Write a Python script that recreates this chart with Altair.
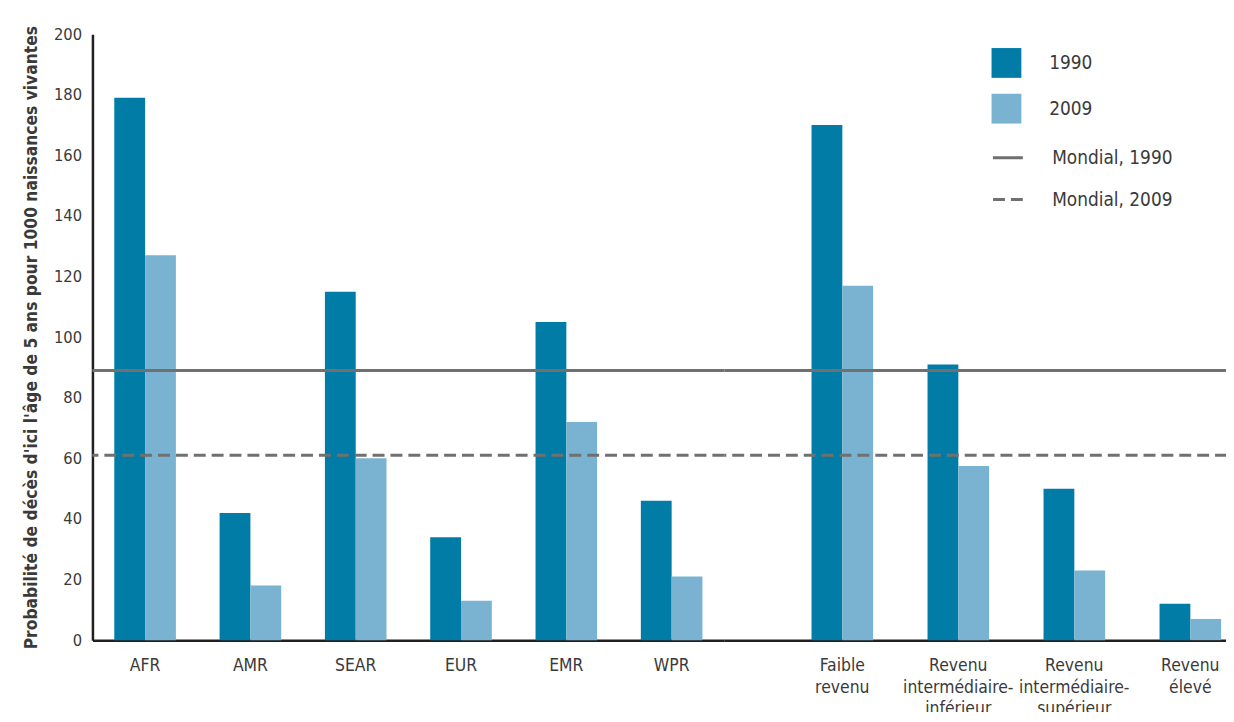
import altair as alt
import pandas as pd

years = ["1990", "2009"]
regions = ["AFR", "AMR", "SEAR", "EUR", "EMR", "WPR"]
region_1990 = [179, 42, 115, 34, 105, 46]
region_2009 = [127, 18, 60, 13, 72, 21]
income = ["Faible|revenu", "Revenu|intermédiaire-|inférieur", "Revenu|intermédiaire-|supérieur", "Revenu|élevé"]
income_1990 = [170, 91, 50, 12]
income_2009 = [117, 57.5, 23, 7]
world_names = ["Mondial, 1990", "Mondial, 2009"]
world_values = [89, 61]

FONT = "DejaVu Sans Condensed, Liberation Sans Narrow, sans-serif"
C1990 = "#007ca6"
C2009 = "#7ab3d1"
GREY = "#707070"
TXT = "#3a3a3a"

def bars_df(cats, v90, v09):
    rows = []
    for c, a, b in zip(cats, v90, v09):
        rows.append({"cat": c, "year": years[0], "value": a})
        rows.append({"cat": c, "year": years[1], "value": b})
    return pd.DataFrame(rows)

world_df = pd.DataFrame({"serie": world_names, "value": world_values})

yscale = alt.Scale(domain=[0, 200], nice=False)


def panel(cats, v90, v09, width, xscale, show_y, show_legend):
    df = bars_df(cats, v90, v09)
    if show_y:
        yaxis = alt.Axis(
            values=list(range(0, 201, 20)), ticks=False, grid=False,
            domainColor="#231f20", domainWidth=2.5, labelFont=FONT, labelFontSize=16.5,
            labelColor=TXT, labelPadding=11,
            title="Probabilité de décès d'ici l'âge de 5 ans pour 1000 naissances vivantes",
            titleFont=FONT, titleFontSize=17.4, titleFontWeight="bold", titleColor=TXT,
            titlePadding=13,
        )
    else:
        yaxis = None
    color_legend = alt.Legend(
        title=None, orient="none", legendX=269, legendY=14, symbolType="square",
        symbolSize=900, symbolStrokeWidth=0, labelFont=FONT, labelFontSize=19,
        labelColor=TXT, labelOffset=28, rowPadding=16,
    ) if show_legend else None
    dash_legend = alt.Legend(
        title=None, orient="none", legendX=269, legendY=108, symbolType="stroke",
        symbolSize=900, symbolStrokeWidth=3, symbolStrokeColor=GREY,
        labelFont=FONT, labelFontSize=19, labelColor=TXT, labelOffset=28, rowPadding=15,
    ) if show_legend else None

    bars = alt.Chart(df).mark_bar().encode(
        x=alt.X("cat:N", sort=cats, scale=xscale, axis=alt.Axis(
            title=None, ticks=False, domainColor="#231f20", domainWidth=2.5,
            labelFont=FONT, labelFontSize=17.5, labelColor=TXT, labelPadding=17,
            labelAngle=0, labelLineHeight=21.5, labelBaseline="top",
            labelExpr="split(datum.label, '|')",
        )),
        xOffset=alt.XOffset("year:N", sort=years),
        y=alt.Y("value:Q", scale=yscale, axis=yaxis),
        color=alt.Color("year:N", scale=alt.Scale(domain=years, range=[C1990, C2009]),
                        legend=color_legend),
    )
    rules = alt.Chart(world_df).mark_rule(color=GREY, strokeWidth=3).encode(
        y=alt.Y("value:Q", scale=yscale),
        strokeDash=alt.StrokeDash("serie:N", scale=alt.Scale(domain=world_names, range=[[1, 0], [12, 6]]),
                                  legend=dash_legend),
    )
    return alt.layer(bars, rules).properties(width=width, height=610).resolve_scale(
        color="independent", strokeDash="independent")


left = panel(regions, region_1990, region_2009, 636,
             alt.Scale(paddingInner=0.415, paddingOuter=0.2075), True, False)
right = panel(income, income_1990, income_2009, 506,
              alt.Scale(paddingInner=0.47, paddingOuter=0.4017, align=0.936), False, True)

chart = alt.hconcat(left, right, spacing=0, bounds="flush").resolve_scale(
    color="independent", strokeDash="independent", y="independent"
).properties(
    padding={"left": 14, "top": 15, "right": -3, "bottom": -8}
).configure(background="white").configure_view(stroke=None)

chart.save("out.html", embed_options={"renderer": "svg", "actions": False})
